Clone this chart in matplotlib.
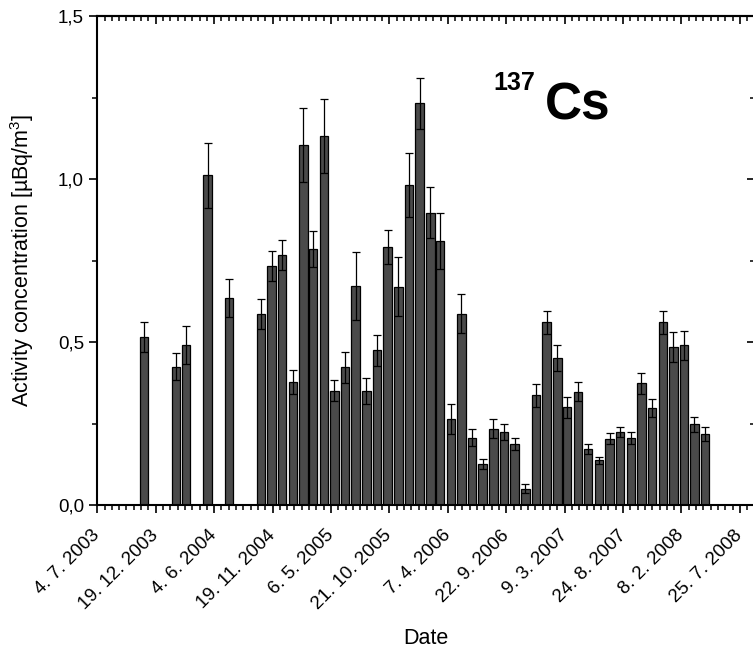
import datetime as dt
import numpy as np
import matplotlib
matplotlib.use('Agg')
import matplotlib.pyplot as plt
import matplotlib.dates as mdates
from matplotlib.ticker import FixedLocator, FuncFormatter, MultipleLocator

plt.rcParams['font.family'] = ['Liberation Sans', 'DejaVu Sans']
plt.rcParams['mathtext.fontset'] = 'custom'
plt.rcParams['mathtext.rm'] = 'Liberation Sans'
plt.rcParams['mathtext.it'] = 'Liberation Sans:italic'

# monthly samples (plotted mid-month)
months = ['2003-11', '2004-02', '2004-03', '2004-05', '2004-07',
          '2004-10', '2004-11', '2004-12',
          '2005-01', '2005-02', '2005-03', '2005-04', '2005-05', '2005-06',
          '2005-07', '2005-08', '2005-09', '2005-10', '2005-11', '2005-12',
          '2006-01', '2006-02', '2006-03', '2006-04', '2006-05', '2006-06',
          '2006-07', '2006-08', '2006-09', '2006-10', '2006-11', '2006-12',
          '2007-01', '2007-02', '2007-03', '2007-04', '2007-05', '2007-06',
          '2007-07', '2007-08', '2007-09', '2007-10', '2007-11', '2007-12',
          '2008-01', '2008-02', '2008-03', '2008-04']
activity = [0.516, 0.424, 0.491, 1.012, 0.634,
            0.585, 0.733, 0.767,
            0.378, 1.104, 0.785, 1.132, 0.351, 0.422,
            0.673, 0.350, 0.475, 0.791, 0.670, 0.982,
            1.232, 0.897, 0.810, 0.264, 0.587, 0.207,
            0.126, 0.234, 0.223, 0.187, 0.050, 0.336,
            0.561, 0.451, 0.300, 0.348, 0.172, 0.137,
            0.204, 0.224, 0.206, 0.373, 0.297, 0.560,
            0.484, 0.490, 0.247, 0.218]
error = [0.046, 0.041, 0.058, 0.100, 0.058,
         0.046, 0.047, 0.045,
         0.036, 0.113, 0.056, 0.114, 0.033, 0.047,
         0.104, 0.040, 0.048, 0.052, 0.091, 0.099,
         0.079, 0.078, 0.085, 0.045, 0.060, 0.026,
         0.016, 0.029, 0.025, 0.019, 0.013, 0.034,
         0.035, 0.039, 0.032, 0.028, 0.014, 0.011,
         0.017, 0.016, 0.018, 0.031, 0.027, 0.036,
         0.046, 0.045, 0.023, 0.022]

start = dt.date(2003, 7, 4)
end = start + dt.timedelta(days=1890)

dates = [dt.date(int(m[:4]), int(m[5:]), 16) for m in months]
x = mdates.date2num(dates)

fig = plt.figure(figsize=(7.53, 6.54), dpi=100)
ax = fig.add_axes([0.1292, 0.2278, 0.8728, 0.7477])

ax.bar(x, activity, width=24, color='#4a4a4a', edgecolor='black', linewidth=0.9)
ax.errorbar(x, activity, yerr=error, fmt='none', ecolor='black',
            elinewidth=0.9, capsize=3, capthick=0.9)

x0 = mdates.date2num(start)
ax.set_xlim(x0, mdates.date2num(end))
ax.set_ylim(0, 1.5)

major_x = x0 + 168 * np.arange(12)
minor_x = x0 + 21 * np.arange(91)


def date_fmt(v, pos=None):
    d = mdates.num2date(v)
    return f'{d.day}. {d.month}. {d.year}'


def comma_fmt(v, pos=None):
    return f'{v:.1f}'.replace('.', ',')


ax.xaxis.set_major_locator(FixedLocator(major_x))
ax.xaxis.set_minor_locator(FixedLocator(minor_x))
ax.xaxis.set_major_formatter(FuncFormatter(date_fmt))
ax.yaxis.set_major_locator(MultipleLocator(0.5))
ax.yaxis.set_minor_locator(MultipleLocator(0.25))
ax.yaxis.set_major_formatter(FuncFormatter(comma_fmt))

ax.tick_params(which='major', direction='out', length=6, width=1.2, labelsize=13.5)
ax.tick_params(which='minor', direction='out', length=3.5, width=1.1)
for lab in ax.get_xticklabels():
    lab.set_rotation(45)
    lab.set_ha('right')
    lab.set_va('center')
    lab.set_rotation_mode('anchor')
ax.tick_params(axis='x', pad=14)

for s in ax.spines.values():
    s.set_linewidth(1.5)

# mirrored axes with ticks pointing the same way
top = ax.secondary_xaxis('top')
top.xaxis.set_major_locator(FixedLocator(major_x))
top.xaxis.set_minor_locator(FixedLocator(minor_x))
top.tick_params(which='major', direction='in', length=6, width=1.2, labeltop=False)
top.tick_params(which='minor', direction='in', length=3.5, width=1.1)
top.spines['top'].set_linewidth(1.5)

right = ax.secondary_yaxis('right')
right.yaxis.set_major_locator(MultipleLocator(0.5))
right.yaxis.set_minor_locator(MultipleLocator(0.25))
right.tick_params(which='major', direction='in', length=6, width=1.2, labelright=False)
right.tick_params(which='minor', direction='in', length=3.5, width=1.1)

ax.set_ylabel('Activity concentration [\u00b5Bq/m$^3$]', fontsize=15.5)
ax.yaxis.set_label_coords(-0.093, 0.5)
ax.set_xlabel('Date', fontsize=15.5, va='top')
ax.xaxis.set_label_coords(0.5, -0.252)

fig.text(493 / 753, 1 - 90 / 654, '137', fontsize=18, fontweight='bold', va='baseline')
fig.text(545 / 753, 1 - 120 / 654, 'Cs', fontsize=37, fontweight='bold', va='baseline')

fig.savefig('out.png', dpi=100)
